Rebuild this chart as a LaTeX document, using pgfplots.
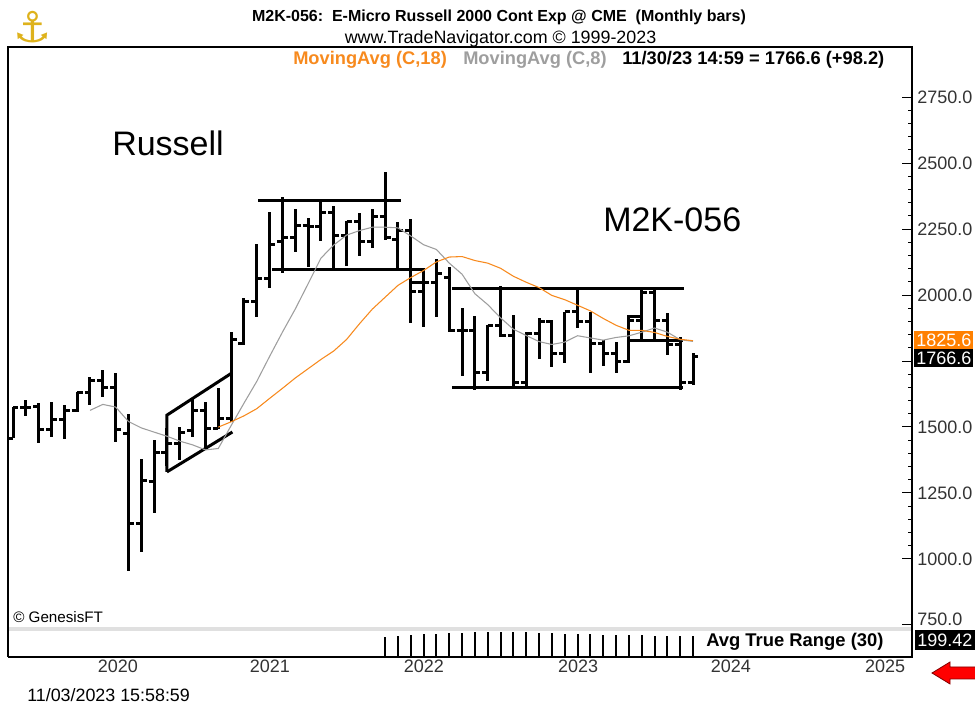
\documentclass[border=0pt]{standalone}
\usepackage{pgfplots}
\pgfplotsset{compat=1.18}
\usepackage{pgfplotstable}
\usepackage{fontspec}
\setmainfont{Liberation Sans}
\newfontfamily\djv{DejaVu Sans}
\definecolor{maorange}{RGB}{247,138,30}
\definecolor{magray}{RGB}{158,158,158}
\definecolor{logogold}{RGB}{222,178,28}
\definecolor{boxorange}{RGB}{255,128,0}

\pgfdeclareplotmark{otick}{\pgfpathmoveto{\pgfqpoint{-\pgfplotmarksize}{0pt}}\pgfpathlineto{\pgfqpoint{0pt}{0pt}}\pgfusepathqstroke}
\pgfdeclareplotmark{ctick}{\pgfpathmoveto{\pgfqpoint{0pt}{0pt}}\pgfpathlineto{\pgfqpoint{\pgfplotmarksize}{0pt}}\pgfusepathqstroke}

\pgfplotstableread{
x o h l c
0 1458 1576 1458 1572
1 1572 1602 1542 1575
2 1576 1591 1439 1492
3 1492 1595 1462 1530
4 1527 1583 1455 1561
5 1561 1633 1557 1629
6 1629 1689 1583 1678
7 1678 1716 1614 1648
8 1648 1705 1443 1492
9 1477 1549 955 1136
10 1136 1379 1027 1299
11 1295 1451 1174 1402
12 1405 1496 1352 1436
13 1436 1500 1375 1481
14 1485 1606 1462 1564
15 1561 1595 1413 1496
16 1496 1648 1492 1534
17 1534 1860 1519 1830
18 1818 1990 1811 1977
19 1977 2193 1917 2064
20 2061 2314 2027 2193
21 2201 2371 2083 2216
22 2216 2326 2163 2265
23 2265 2292 2106 2261
24 2258 2356 2205 2311
25 2314 2337 2102 2227
26 2227 2280 2110 2277
27 2277 2311 2148 2201
28 2201 2326 2178 2296
29 2296 2466 2208 2216
30 2212 2277 2102 2246
31 2246 2288 1894 2015
32 2015 2091 1879 2046
33 2046 2136 1917 2083
34 2068 2106 1860 1864
35 1864 1951 1693 1864
36 1864 1920 1640 1705
37 1705 1886 1674 1886
38 1886 2034 1841 1845
39 1845 1924 1648 1670
40 1670 1860 1648 1856
41 1856 1913 1758 1898
42 1898 1905 1727 1777
43 1777 1936 1742 1936
44 1936 2019 1875 1898
45 1898 1936 1705 1818
46 1818 1830 1731 1780
47 1780 1822 1705 1750
48 1750 1917 1742 1905
49 1905 2019 1830 2008
50 2008 2019 1830 1905
51 1905 1932 1773 1811
52 1811 1841 1640 1668.4
53 1670 1780 1659 1766.6
}\ohlc

\pgfplotstableread{
x v
6 1562.9
7 1585.6
8 1575.6
9 1520.8
10 1496.6
11 1480.6
12 1465.0
13 1446.5
14 1432.3
15 1413.3
16 1418.5
17 1505.3
18 1590.0
19 1672.8
20 1767.4
21 1859.3
22 1946.9
23 2042.5
24 2139.6
25 2189.3
26 2226.8
27 2243.9
28 2256.8
29 2256.8
30 2254.4
31 2223.6
32 2190.5
33 2172.5
34 2120.9
35 2078.8
36 2004.9
37 1963.6
38 1913.5
39 1870.4
40 1846.6
41 1823.5
42 1812.6
43 1821.6
44 1845.8
45 1837.3
46 1829.1
47 1839.1
48 1845.3
49 1859.0
50 1875.0
51 1859.4
52 1830.7
53 1824.3
}\maeight

\pgfplotstableread{
x v
16 1499.5
17 1519.7
18 1542.2
19 1569.4
20 1608.3
21 1646.4
22 1685.6
23 1720.7
24 1755.8
25 1788.0
26 1831.6
27 1890.8
28 1946.2
29 1991.4
30 2036.4
31 2066.1
32 2092.8
33 2125.4
34 2143.8
35 2145.7
36 2130.6
37 2120.7
38 2101.3
39 2071.0
40 2048.3
41 2028.1
42 1998.4
43 1982.3
44 1961.2
45 1939.9
46 1911.3
47 1885.4
48 1866.4
49 1866.1
50 1858.2
51 1843.1
52 1832.2
53 1826.8
}\maeighteen

\pgfplotstableread{
x v
29 196
30 205
31 212
32 220
33 224
34 230
35 234
36 238
37 240
38 240
39 238
40 236
41 234
42 230
43 226
44 222
45 219
46 216
47 214
48 211
49 208
50 205
51 203
52 201
53 199.42
}\atr

\begin{document}
\begin{tikzpicture}
\useasboundingbox (0,0) rectangle (731.25pt,529.5pt);

% main price panel
\begin{axis}[
  at={(6pt,59.25pt)}, anchor=south west, scale only axis,
  width=678pt, height=435pt,
  xmin=-0.39, xmax=70.07, ymin=742.4, ymax=2939.5,
  axis line style={draw=none},
  xtick=\empty,
  ytick={1000,1250,1500,1750,2000,2250,2500,2750},
  yticklabels={1000.0,1250.0,1500.0,,2000.0,2250.0,2500.0,2750.0},
  extra y ticks={750},
  extra y tick labels={750.0},
  extra y tick style={yticklabel style={yshift=4.5pt}},
  minor y tick num=4,
  ytick pos=right, yticklabel pos=right,
  tick align=inside,
  major tick length=7.5pt, minor tick length=3pt,
  tick style={black, line width=0.75pt},
  yticklabel style={font=\fontsize{13.5}{15}\selectfont, text=black!80, xshift=0.5pt},
  clip mode=individual,
]
% annotation lines
\addplot[black, line width=2.25pt] coordinates {(12,1330) (12,1545) (17.07,1705)};
\addplot[black, line width=2.25pt] coordinates {(12,1330) (17.1,1481)};
\addplot[black, line width=2.25pt] coordinates {(19.1,2358) (30.25,2358)};
\addplot[black, line width=2.25pt] coordinates {(20.2,2098) (32.1,2098)};
\addplot[black, line width=2.25pt] coordinates {(31,2049) (32,2049)};
\addplot[black, line width=2.25pt] coordinates {(34.2,2023) (52.3,2023)};
\addplot[black, line width=2.25pt] coordinates {(34.2,1648) (52.2,1648)};
\addplot[black, line width=2.25pt] coordinates {(48,1826) (48,1917) (49,1917) (49,1826)};
\addplot[black, line width=2.25pt] coordinates {(48,1826) (52.2,1826)};
% OHLC bars: open tick + high-low range
\addplot[black, line width=2.25pt, only marks, mark=otick, mark size=4.1pt,
  mark options={line width=2.25pt},
  error bars/.cd, y dir=both, y explicit, error mark=none,
  error bar style={line width=2.25pt, black}]
  table[x=x, y=o, y error plus expr={\thisrow{h}-\thisrow{o}}, y error minus expr={\thisrow{o}-\thisrow{l}}] {\ohlc};
% close tick
\addplot[black, line width=2.25pt, only marks, mark=ctick, mark size=4.1pt,
  mark options={line width=2.25pt}]
  table[x=x, y=c] {\ohlc};
% moving averages
\addplot[magray, line width=0.8pt] table[x=x, y=v] {\maeight};
\addplot[maorange, line width=0.8pt] table[x=x, y=v] {\maeighteen};
\end{axis}

% ATR panel
\begin{axis}[
  at={(6pt,36.75pt)}, anchor=south west, scale only axis,
  width=678pt, height=20.25pt,
  xmin=-0.39, xmax=70.07, ymin=0, ymax=260,
  axis line style={draw=none},
  ytick=\empty,
  xtick={8.18,20.03,32.03,44.04,55.96,67.97},
  xticklabels={2020,2021,2022,2023,2024,2025},
  major tick length=0pt,
  xticklabel style={font=\fontsize{13.5}{15}\selectfont, text=black!80, yshift=1pt},
  clip mode=individual,
]
\addplot[ycomb, black, line width=1.5pt, mark=none] table[x=x, y=v] {\atr};
\end{axis}

% frame
\fill[black!12] (6pt,56.25pt) rectangle (684pt,59.25pt);
\draw[black, line width=1.1pt] (6pt,36.75pt) -- (6pt,494.25pt) -- (684pt,494.25pt) -- (684pt,36.75pt);
\draw[black, line width=2pt] (6pt,36.75pt) -- (685pt,36.75pt);

% value boxes
\node[anchor=west, fill=boxorange, text=white, inner xsep=1.5pt, inner ysep=0pt, minimum height=13pt, font=\fontsize{13.5}{15}\selectfont] at (685.5pt,274.5pt) {1825.6};
\node[anchor=west, fill=black, text=white, inner xsep=1.5pt, inner ysep=0pt, minimum height=13pt, font=\fontsize{13.5}{15}\selectfont] at (685.5pt,261pt) {1766.6};
\fill[black] (686.25pt,42pt) rectangle (731.25pt,57pt);
\node[anchor=base west, inner sep=0pt, text=white, font=\fontsize{13.5}{15}\selectfont] at (687.75pt,44.25pt) {199.42};

% texts
\node[anchor=base, inner sep=0pt, font=\fontsize{12}{14}\selectfont\bfseries] at (374.25pt,513pt) {M2K-056:\ \ E-Micro Russell 2000 Cont Exp @ CME\ \ (Monthly bars)};
\node[anchor=base, inner sep=0pt, font=\fontsize{13.4}{15}\selectfont] at (375.4pt,496.5pt) {www.TradeNavigator.com © 1999-2023};
\node[anchor=base west, inner sep=0pt, font=\fontsize{13.7}{15}\selectfont\bfseries, text=maorange] at (219.75pt,480.75pt) {MovingAvg (C,18)};
\node[anchor=base west, inner sep=0pt, font=\fontsize{13.7}{15}\selectfont\bfseries, text=magray] at (347.25pt,480.75pt) {MovingAvg (C,8)};
\node[anchor=base west, inner sep=0pt, font=\fontsize{13.7}{15}\selectfont\bfseries] at (466.5pt,480.75pt) {11/30/23 14:59 = 1766.6 (+98.2)};
\node[anchor=base west, inner sep=0pt, font=\fontsize{25.5}{28}\selectfont] at (84pt,412.5pt) {Russell};
\node[anchor=base west, inner sep=0pt, font=\fontsize{25.5}{28}\selectfont] at (452.25pt,355.5pt) {M2K-056};
\node[anchor=base west, inner sep=0pt, font=\fontsize{11.4}{13}\selectfont] at (9.75pt,62.25pt) {© GenesisFT};
\node[anchor=base west, inner sep=0pt, font=\fontsize{13.8}{15}\selectfont\bfseries] at (529.5pt,44.25pt) {Avg True Range (30)};
\node[anchor=base west, inner sep=0pt, font=\fontsize{13.4}{15}\selectfont] at (20.25pt,3pt) {11/03/2023 15:58:59};
\node[inner sep=0pt, text=logogold, font=\djv\fontsize{32}{34}\selectfont] at (24.75pt,509.25pt) {⚓};

% red arrow
\filldraw[fill=red, draw=red!50!black, line width=0.6pt] (699pt,24.75pt) -- (712.5pt,33pt) -- (712.5pt,29.25pt) -- (732pt,29.25pt) -- (732pt,20.25pt) -- (712.5pt,20.25pt) -- (712.5pt,16.5pt) -- cycle;
\end{tikzpicture}
\end{document}
